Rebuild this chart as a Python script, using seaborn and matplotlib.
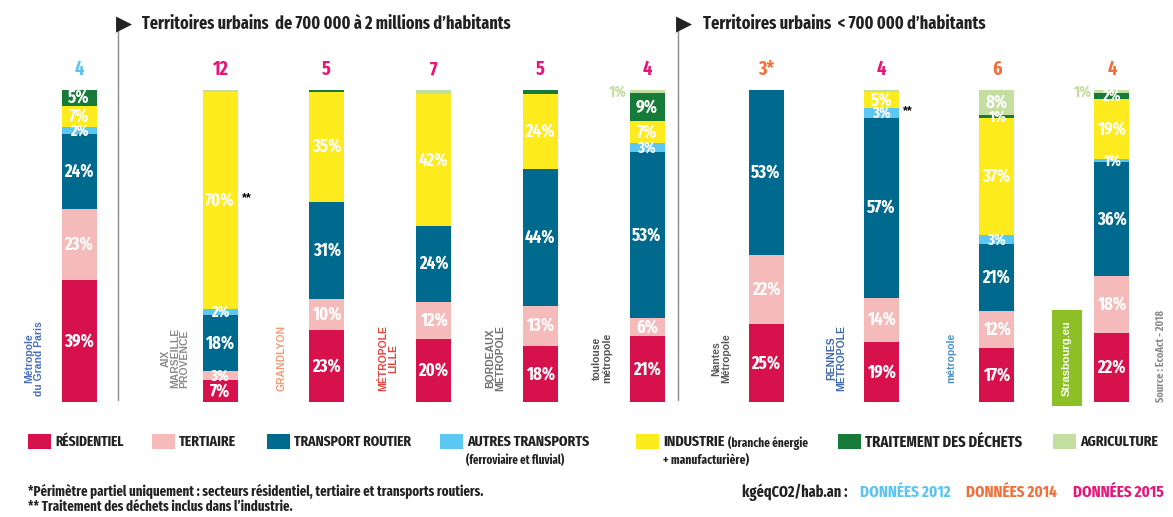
import matplotlib
matplotlib.use("Agg")
import os
import matplotlib.pyplot as plt
import seaborn as sns
import pandas as pd
from matplotlib import font_manager
from matplotlib.font_manager import FontProperties
from matplotlib.patches import Rectangle

# --- data -------------------------------------------------------------
cities = ["Grand Paris", "Aix-Marseille-Provence", "Grand Lyon", "Lille",
          "Bordeaux", "Toulouse", "Nantes", "Rennes", "Grenoble", "Strasbourg"]
totals = ["4", "12", "5", "7", "5", "4", "3*", "4", "6", "4"]
data_year = [2012, 2015, 2015, 2015, 2015, 2015, 2014, 2015, 2014, 2014]

residentiel = [39, 7, 23, 20, 18, 21, 25, 19, 17, 22]
tertiaire = [23, 3, 10, 12, 13, 6, 22, 14, 12, 18]
transport_routier = [24, 18, 31, 24, 44, 53, 53, 57, 21, 36]
autres_transports = [2, 2, 0, 0, 0, 3, 0, 3, 3, 1]
industrie = [7, 70, 35, 42, 24, 7, 0, 5, 37, 19]
dechets = [5, 0, 0.6, 0, 1.3, 9, 0, 0, 1, 2]
agriculture = [0, 0.5, 0, 1.4, 0, 1, 0, 0.7, 8, 1]

sectors = ["RÉSIDENTIEL", "TERTIAIRE", "TRANSPORT ROUTIER", "AUTRES TRANSPORTS",
           "INDUSTRIE", "TRAITEMENT DES DÉCHETS", "AGRICULTURE"]
colors = ["#D6114C", "#F5BBBB", "#006A8E", "#5CC7F2", "#FDEB1D", "#167B39", "#C4DDA0"]
year_colors = {2012: "#5BC4F1", 2014: "#F26F3A", 2015: "#E5187A"}

# "**" marks: city index -> sector index
double_star = {1: 4, 7: 3}

logo_text = ["Métropole\ndu Grand Paris", "AIX\nMARSEILLE\nPROVENCE", "GRANDLYON",
             "MÉTROPOLE\nLILLE", "BORDEAUX\nMÉTROPOLE", "toulouse\nmétropole",
             "Nantes\nMétropole", "RENNES\nMÉTROPOLE", "métropole", "Strasbourg.eu"]
logo_colors = ["#2B55B5", "#777777", "#F08A5D", "#E2231A", "#555555", "#333333",
               "#3A3A3A", "#1F4E9E", "#2A7FB8", "#FFFFFF"]

df = pd.DataFrame({"city": cities, "total": totals, "year": data_year})
layers = [residentiel, tertiaire, transport_routier, autres_transports,
          industrie, dechets, agriculture]
for name, vals in zip(sectors, layers):
    df[name] = vals
# all bars are drawn at full height
df["sum"] = df[sectors].sum(axis=1)
cum = df[sectors].div(df["sum"], axis=0).mul(100).cumsum(axis=1)

# --- style ------------------------------------------------------------
sns.set_theme(style="white")
plt.rcParams["font.family"] = ["Liberation Sans", "DejaVu Sans"]

# a condensed bold face if one is installed, else Liberation Sans bold
files = [f.fname for f in font_manager.fontManager.ttflist]
bold_fp = FontProperties(family=["Liberation Sans", "DejaVu Sans"], weight="bold")
slack = 1.12
cands = []
for p in files:
    b = os.path.basename(p).lower().replace(" ", "").replace("_", "")
    if "bold" in b and ("condensed" in b or "narrow" in b) and "italic" not in b \
            and "semibold" not in b and "extrabold" not in b:
        rank = 0 if "extracondensed" in b else (2 if "semicondensed" in b else 1)
        cands.append((rank, p))
if cands:
    bold_fp = FontProperties(fname=sorted(cands)[0][1])
    slack = 1.0
lab_size = 13 if cands else 10.5


def txt(ax, x, y, s, size, **kw):
    return ax.text(x, y, s, fontproperties=bold_fp, fontsize=size, **kw)


W, H = 1173, 517
fig = plt.figure(figsize=(W / 100, H / 100), dpi=100)
fig.patch.set_facecolor("white")
renderer = fig.canvas.get_renderer()


def fit(t, width_px, max_size, extra=slack):
    # size a text so it spans about the same width as in the original
    w = t.get_window_extent(renderer).width
    t.set_fontsize(min(t.get_fontsize() * width_px * extra / w, max_size))
    return t


over = fig.add_axes([0, 0, 1, 1])
over.set_xlim(0, W)
over.set_ylim(H, 0)
over.axis("off")

# groups: (first, last, first bar centre px, spacing px)
groups = [(0, 1, 79, 70), (1, 6, 220, 106.75), (6, 10, 766, 115.3)]
bar_px = 35
y_bottom, y_top = 402, 90

for first, last, c0, s in groups:
    n = last - first
    left = c0 - s / 2
    ax = fig.add_axes([left / W, 1 - y_bottom / H, n * s / W, (y_bottom - y_top) / H])
    ax.patch.set_alpha(0)
    sub = df.iloc[first:last].reset_index(drop=True)
    subcum = cum.iloc[first:last].reset_index(drop=True)
    bw = bar_px / s
    for k in range(len(sectors) - 1, -1, -1):
        sns.barplot(x=sub["city"], y=subcum[sectors[k]], order=list(sub["city"]),
                    color=colors[k], saturation=1, width=bw, linewidth=0, ax=ax)
    ax.set_xlim(-0.5, n - 0.5)
    ax.set_ylim(0, 100)
    ax.axis("off")

    for i in range(n):
        gi = first + i
        lower = 0
        for k, name in enumerate(sectors):
            v = sub.loc[i, name]
            upper = subcum.loc[i, name]
            mid = (lower + upper) / 2
            size = lab_size if v > 3 else lab_size - 1.5
            if v >= 1 and float(v).is_integer():
                if name == "AGRICULTURE" and v <= 1:
                    txt(ax, i - bw / 2 - 0.03, mid, f"{int(v)}%", size,
                        color=colors[k], ha="right", va="center")
                else:
                    txt(ax, i, mid, f"{int(v)}%", size, color="white",
                        ha="center", va="center")
            if double_star.get(gi) == k:
                ax.text(i + bw / 2 + 0.04, mid + 0.5, "**", color="black", ha="left",
                        va="center", fontsize=9, weight="bold")
            lower = upper
        txt(ax, i, 106.5, sub.loc[i, "total"], lab_size + 1,
            color=year_colors[sub.loc[i, "year"]], ha="center", va="center",
            clip_on=False)
        # logo placeholder
        lx = i - 45 / s
        if gi == len(cities) - 1:
            ax.text(lx, 14, logo_text[gi], color=logo_colors[gi], rotation=90,
                    ha="center", va="center", fontsize=8, weight="bold",
                    bbox=dict(boxstyle="square,pad=0.9", fc="#8DBF26", ec="none"))
        else:
            ax.text(lx, 14, logo_text[gi], color=logo_colors[gi], rotation=90,
                    ha="center", va="center", fontsize=7.5, weight="bold",
                    linespacing=0.95, alpha=0.85)

# separators and section titles
for x in (118, 678):
    over.plot([x, x], [28, 400], color="#8C8C8C", lw=1)
over.text(116, 24, "▶", fontsize=15, ha="left", va="center", family="DejaVu Sans",
          color="#222222")
fit(txt(over, 142, 24, "Territoires urbains  de 700 000 à 2 millions d’habitants", 13,
        ha="left", va="center", color="#222222"), 367, 14)
over.text(676, 24, "▶", fontsize=15, ha="left", va="center", family="DejaVu Sans",
          color="#222222")
fit(txt(over, 703, 24, "Territoires urbains  < 700 000 d’habitants", 13,
        ha="left", va="center", color="#222222"), 282, 14)

# legend
leg_x = [28, 152, 267, 440, 636, 838, 1053]
leg_w = [69, 57, 118, 122, 61, 157, 78]
for k, x in enumerate(leg_x):
    over.add_patch(Rectangle((x, 434), 23, 15, color=colors[k], lw=0))
    t = fit(txt(over, x + 27, 442, sectors[k], 12, ha="left", va="center",
                color="#222222"), leg_w[k], 12.5)
    if k == 4:
        x_sub = t.get_window_extent(renderer).x1 + 4
fit(txt(over, x_sub, 443, "(branche énergie", 10, ha="left", va="center",
        color="#222222"), 80, 10.5)
fit(txt(over, 663, 460, "+ manufacturière)", 10, ha="left", va="center",
        color="#222222"), 86, 10.5)
fit(txt(over, 466, 460, "(ferroviaire et fluvial)", 10, ha="left", va="center",
        color="#222222"), 99, 10.5)

# footnotes
fit(txt(over, 28, 491, "*Périmètre partiel uniquement : secteurs résidentiel, tertiaire et transports routiers.",
        10, ha="left", va="center", color="#222222"), 456, 11.5)
fit(txt(over, 28, 507, "** Traitement des déchets inclus dans l’industrie.", 10,
        ha="left", va="center", color="#222222"), 265, 11.5)
fit(txt(over, 742, 492, "kgéqCO2/hab.an :", 11, ha="left", va="center",
        color="#222222"), 101, 12.5, 1.04)
for x, yr in zip((860, 966, 1073), (2012, 2014, 2015)):
    fit(txt(over, x, 492, f"DONNÉES {yr}", 11, color=year_colors[yr], ha="left",
            va="center"), 86, 12.5, 1.06)
txt(over, 1161, 356, "Source : EcoAct - 2018", 8, rotation=90, color="#8C8C8C",
    ha="center", va="center")

fig.savefig("out.png", dpi=100)
